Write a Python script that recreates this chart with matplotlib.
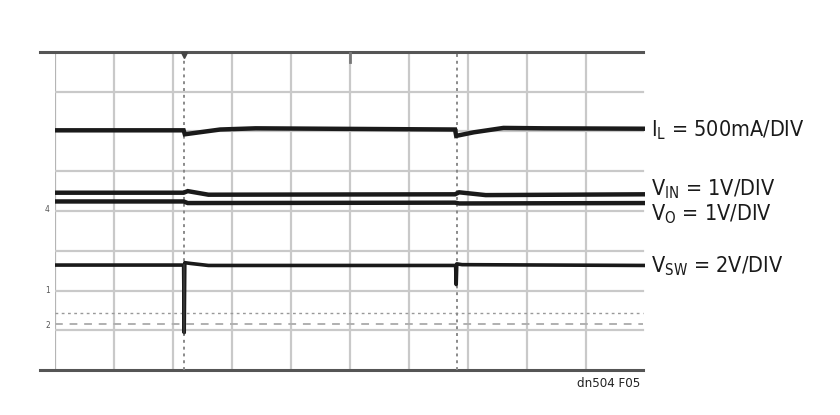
import matplotlib
matplotlib.use("Agg")
from matplotlib import pyplot as plt

plt.rcParams['font.family'] = ['DejaVu Sans']
plt.rcParams['font.stretch'] = 'condensed'
plt.rcParams['mathtext.fontset'] = 'custom'
plt.rcParams['mathtext.rm'] = 'DejaVu Sans:stretch=condensed'
plt.rcParams['mathtext.default'] = 'rm'

# scope screen: 10 divisions across, 8 divisions high (0 = bottom)
# trace values are in divisions
t_il = [0.0, 2.18, 2.20, 2.45, 2.8, 3.4, 6.78, 6.80, 7.1, 7.6, 8.3, 10.0]
il = [6.03, 6.03, 5.93, 5.98, 6.05, 6.08, 6.05, 5.89, 5.98, 6.09, 6.08, 6.07]

t_vin = [0.0, 2.18, 2.25, 2.6, 6.78, 6.85, 7.3, 10.0]
vin = [4.46, 4.46, 4.50, 4.41, 4.42, 4.47, 4.40, 4.42]

t_vo = [0.0, 2.18, 2.25, 6.78, 6.85, 10.0]
vo = [4.24, 4.24, 4.20, 4.21, 4.19, 4.20]

t_vsw = [0.0, 2.18, 2.19, 2.20, 2.30, 2.6, 6.79, 6.80, 6.81, 6.9, 10.0]
vsw = [2.64, 2.64, 0.94, 2.70, 2.68, 2.63, 2.63, 2.15, 2.67, 2.65, 2.63]

cursor_x = [2.19, 6.82]
ref_dotted = 1.43
ref_dashed = 1.16

labels = ["$I_L$ = 500mA/DIV", "$V_{IN}$ = 1V/DIV", "$V_O$ = 1V/DIV", "$V_{SW}$ = 2V/DIV"]
label_y = [6.03, 4.55, 3.93, 2.60]
markers = [("4", 4.05), ("1", 2.0), ("2", 1.12)]

fig = plt.figure(figsize=(8.4, 4.15), dpi=100)
ax = fig.add_axes([55 / 840, 45 / 415, 590 / 840, 318 / 415])
ax.set_xlim(0, 10)
ax.set_ylim(0, 8)
ax.axis('off')

grid_c = '#c9c9c9'
for gx in range(0, 10):
    ax.plot([gx, gx], [0, 8], color='#b5b5b5' if gx == 0 else grid_c, lw=1.6, zorder=1)
for gy in range(1, 8):
    ax.plot([0, 9.97], [gy, gy], color=grid_c, lw=1.6, zorder=1)

# top and bottom frame
for gy in [0, 8]:
    ax.plot([-0.25, 9.97], [gy, gy], color='#555555', lw=2.2, clip_on=False, zorder=2)

# reference levels
ax.plot([0, 9.97], [ref_dotted, ref_dotted], color='#999999', lw=1.0, ls=(0, (2, 2.5)), zorder=1)
ax.plot([0, 9.97], [ref_dashed, ref_dashed], color='#b0b0b0', lw=1.4, ls=(0, (4, 3.5)), zorder=1)

# cursors
for cx in cursor_x:
    ax.plot([cx, cx], [0, 8], color='#8a8a8a', lw=1.4, ls=(0, (1.5, 2)), zorder=2)

# trigger marks on top edge
ax.plot([cursor_x[0]], [7.93], marker='v', ms=5, color='#444444', clip_on=False, zorder=4)
ax.plot([5.0, 5.0], [7.75, 8.0], color='#777777', lw=2, zorder=3)

kw = dict(color='#1a1a1a', lw=3.2, solid_joinstyle='miter', zorder=5)
ax.plot(t_il, il, **kw)
ax.plot(t_vin, vin, **kw)
ax.plot(t_vo, vo, **kw)
ax.plot(t_vsw, vsw, color='#1a1a1a', lw=2.6, zorder=5)
ax.plot([cursor_x[0] - 0.01] * 2, [2.64, 0.94], color='#333333', lw=1.4, zorder=5)

# channel markers at left edge
for m, my in markers:
    ax.text(-0.13, my, m, fontsize=6, color='#555555', ha='center', va='center', clip_on=False)

# channel labels on the right
for lab, ly in zip(labels, label_y):
    ax.text(10.1, ly, lab, fontsize=15.5, color='#1a1a1a', ha='left', va='center', clip_on=False)

fig.text(640 / 840, 1 - 383 / 415, "dn504 F05", fontsize=9.5, color='#222222', ha='right', va='center')

fig.savefig("out.png", dpi=100)
